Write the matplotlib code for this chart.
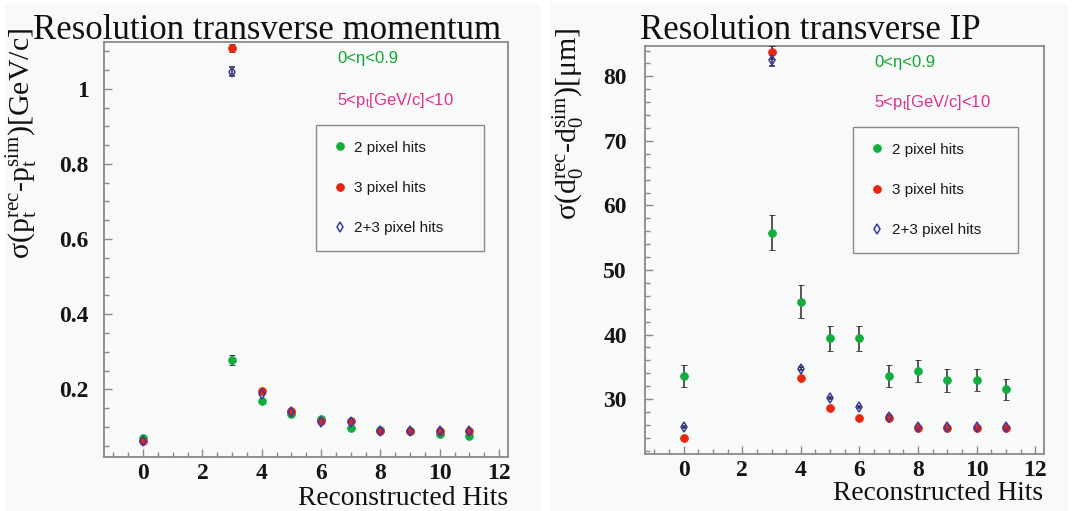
import matplotlib
matplotlib.use("Agg")
import matplotlib.pyplot as plt
from matplotlib.patches import Rectangle
from matplotlib.lines import Line2D
from matplotlib.ticker import MultipleLocator, FuncFormatter
import numpy as np

plt.rcParams['mathtext.fontset'] = 'custom'
plt.rcParams['mathtext.rm'] = 'Liberation Serif'
plt.rcParams['mathtext.it'] = 'Liberation Serif:italic'
plt.rcParams['mathtext.sf'] = 'Liberation Sans'

# ---- data -------------------------------------------------------------
hits = [0, 3, 4, 5, 6, 7, 8, 9, 10, 11]

# transverse momentum resolution [GeV/c]
pt_2hits = [0.071, 0.279, 0.168, 0.134, 0.120, 0.098, 0.091, 0.089, 0.081, 0.076]
pt_2hits_err = [0.003, 0.013, 0.003, 0.003, 0.003, 0.003, 0.003, 0.003, 0.003, 0.003]
pt_3hits = [0.063, 1.108, 0.196, 0.142, 0.115, 0.115, 0.090, 0.089, 0.089, 0.089]
pt_3hits_err = [0.002, 0.010, 0.002, 0.002, 0.002, 0.002, 0.002, 0.002, 0.002, 0.002]
pt_all = [0.063, 1.045, 0.189, 0.140, 0.112, 0.113, 0.089, 0.089, 0.089, 0.089]
pt_all_err = [0.002, 0.012, 0.002, 0.002, 0.002, 0.002, 0.002, 0.002, 0.002, 0.002]

# transverse impact parameter resolution [um]
d0_2hits = [33.6, 55.8, 45.1, 39.4, 39.4, 33.6, 34.3, 32.9, 32.9, 31.5]
d0_2hits_err = [1.7, 2.7, 2.6, 2.0, 2.0, 1.7, 1.7, 1.8, 1.7, 1.6]
d0_3hits = [24.0, 83.7, 33.2, 28.6, 27.0, 27.0, 25.5, 25.5, 25.5, 25.5]
d0_3hits_err = [0.2, 1.0, 0.2, 0.2, 0.2, 0.2, 0.2, 0.2, 0.2, 0.2]
d0_all = [25.7, 82.5, 34.7, 30.2, 28.8, 27.3, 25.7, 25.7, 25.7, 25.7]
d0_all_err = [0.2, 0.85, 0.2, 0.2, 0.2, 0.2, 0.2, 0.2, 0.2, 0.2]

series_labels = ["2 pixel hits", "3 pixel hits", "2+3 pixel hits"]
eta_label = "0<η<0.9"
pt_range_label = r"5<p$_{\mathsf{t}}$[GeV/c]<10"

# ---- style ------------------------------------------------------------
W, H = 1072, 511
GREEN = "#12ad3c"
RED = "#e6260e"
BLUE = "#3a3aa8"
TXT_GREEN = "#13a532"
TXT_MAGENTA = "#e0308a"
FRAME = "#8a8a8a"
PANEL_BG = "#f8f9f9"
SERIF = "Liberation Serif"
SANS = "Liberation Sans"

fig = plt.figure(figsize=(W / 100, H / 100), dpi=100)
fig.patch.set_facecolor("white")


def fx(px):
    return px / W


def fy(py):
    return 1 - py / H


# panel backgrounds
for x0, x1 in [(5, 541), (550, 1068)]:
    fig.patches.append(Rectangle((fx(x0), 0), fx(x1) - fx(x0), fy(3),
                                 transform=fig.transFigure, facecolor=PANEL_BG,
                                 edgecolor="none", zorder=-5))

short_fmt = FuncFormatter(lambda v, pos: f"{v:g}")


def make_panel(rect_px, ylim, ymaj, ymin, ys, errs, title, title_xc, ylabel,
               ylabel_x, xlabel_right, xlabel_base, text_x, text_y1, text_y2,
               leg_box, ypad):
    l, t, r, b = rect_px
    ax = fig.add_axes([fx(l), fy(b), fx(r) - fx(l), fy(t) - fy(b)])
    ax.set_zorder(2)
    ax.patch.set_visible(False)
    ax.set_xlim(-1.32, 12.3)
    ax.set_ylim(*ylim)
    for sp in ax.spines.values():
        sp.set_color(FRAME)
        sp.set_linewidth(1.3)
    ax.xaxis.set_major_locator(MultipleLocator(2))
    ax.xaxis.set_minor_locator(MultipleLocator(0.5))
    ax.yaxis.set_major_locator(MultipleLocator(ymaj))
    ax.yaxis.set_minor_locator(MultipleLocator(ymin))
    ax.yaxis.set_major_formatter(short_fmt)
    ax.tick_params(which="both", direction="in", color=FRAME, width=1.0,
                   top=False, right=False)
    ax.tick_params(which="major", length=6)
    ax.tick_params(which="minor", length=3.5)
    ax.tick_params(axis="x", pad=4)
    ax.tick_params(axis="y", pad=ypad)
    ax.tick_params(labelsize=17, labelcolor="#151515")
    for lab in ax.get_xticklabels() + ax.get_yticklabels():
        lab.set_fontfamily(SERIF)
        lab.set_fontweight("bold")

    styles = [
        dict(marker="o", ms=5.6, mfc=GREEN, mec=GREEN, mew=0.6),
        dict(marker="o", ms=5.6, mfc=RED, mec=RED, mew=0.6),
        dict(marker="d", ms=5.4, mfc="none", mec=BLUE, mew=1.1),
    ]
    for y, e, st in zip(ys, errs, styles):
        ax.errorbar(hits, y, yerr=e, ls="none", ecolor="#2a2a2a",
                    elinewidth=1.1, capsize=2.4, capthick=1.1, zorder=3,
                    clip_on=True, **st)

    fig.text(title_xc, fy(39), title, fontfamily=SERIF, fontsize=25,
             ha="center", va="baseline", color="#111111")
    fig.text(ylabel_x, fy(28), ylabel, fontfamily=SERIF, fontsize=21.5,
             rotation=90, ha="center", va="top", color="#111111")
    fig.text(xlabel_right, fy(xlabel_base), "Reconstructed Hits",
             fontfamily=SERIF, fontsize=19.8, ha="right", va="baseline",
             color="#111111")
    fig.text(text_x, fy(text_y1), eta_label, fontfamily=SANS, fontsize=12,
             color=TXT_GREEN, ha="left", va="center")
    fig.text(text_x, fy(text_y2), pt_range_label, fontfamily=SANS,
             fontsize=12, color=TXT_MAGENTA, ha="left", va="center")

    handles = [Line2D([], [], ls="none", **st) for st in styles]
    lx0, ly0, lx1, ly1 = leg_box
    leg = ax.legend(handles, series_labels, loc="upper left",
                    bbox_to_anchor=(fx(lx0), fy(ly0), fx(lx1) - fx(lx0), 0),
                    bbox_transform=fig.transFigure, mode="expand",
                    prop={"family": SANS, "size": 11}, frameon=True,
                    fancybox=False, edgecolor=FRAME, facecolor=PANEL_BG,
                    framealpha=1, labelspacing=1.73, borderpad=1.02,
                    handletextpad=0.4, handlelength=1.1, borderaxespad=0)
    leg.get_frame().set_linewidth(1.0)
    for txt in leg.get_texts():
        txt.set_color("#1a1a1a")
    return ax


make_panel((104, 42, 508, 457), (0.02, 1.1245), 0.2, 0.05,
           [pt_2hits, pt_3hits, pt_all],
           [pt_2hits_err, pt_3hits_err, pt_all_err],
           "Resolution transverse momentum", fx(267),
           r"σ(p$_{\mathrm{t}}^{\mathrm{rec}}$-p$_{\mathrm{t}}^{\mathrm{sim}}$)[GeV/c]",
           fx(22), fx(508), 505, fx(337), 58, 101, (316, 125, 484, 249), 11)

make_panel((645, 46, 1044, 454), (21.5, 84.7), 10, 2,
           [d0_2hits, d0_3hits, d0_all],
           [d0_2hits_err, d0_3hits_err, d0_all_err],
           "Resolution transverse IP", fx(810),
           r"σ(d$_{\mathrm{0}}^{\mathrm{rec}}$-d$_{\mathrm{0}}^{\mathrm{sim}}$)[μm]",
           fx(568), fx(1043), 500, fx(874), 62, 102, (853, 127, 1018, 250), 13)

fig.savefig("out.png", dpi=100)
